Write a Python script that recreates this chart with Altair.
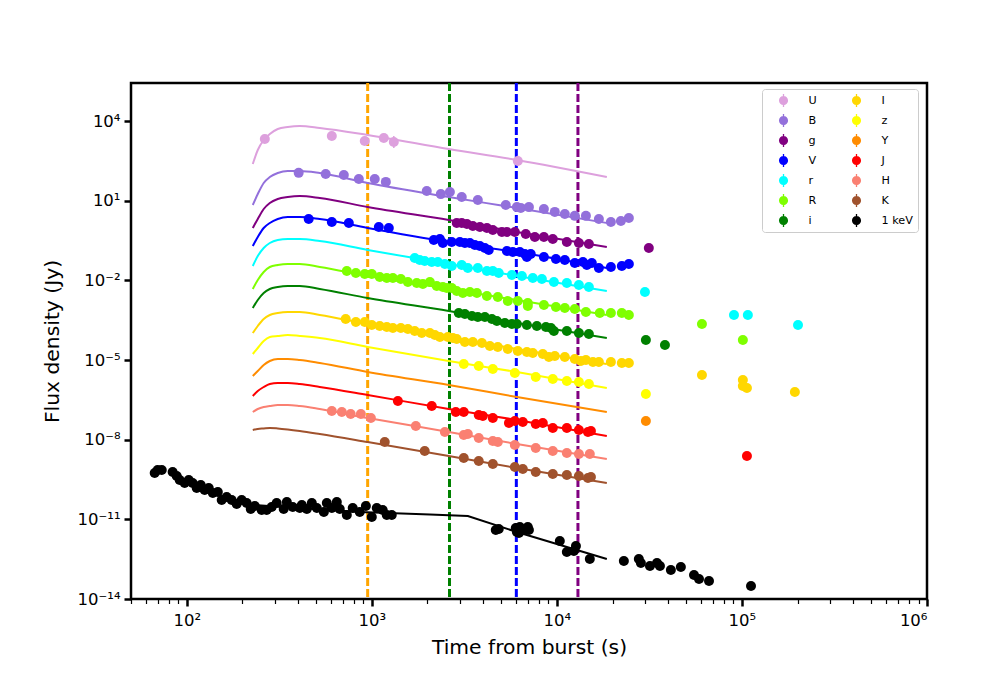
"""Multi-band afterglow light curves, optical/NIR and 1 keV X-ray."""

import altair as alt
import pandas as pd

# all arrays are log10(time / s) and log10(flux / Jy)
U_t = [2.422, 2.784, 2.962, 3.065, 3.119, 3.789]
U_f = [3.326, 3.439, 3.250, 3.364, 3.213, 2.497]
B_t = [2.605, 2.751, 2.849, 2.930, 3.016, 3.076, 3.297, 3.373, 3.422, 3.486, 3.573, 3.724,
       3.784, 3.805, 3.849, 3.930, 3.989, 4.043, 4.097, 4.157, 4.227, 4.292, 4.346, 4.389]
B_f = [2.05, 2.01, 1.97, 1.82, 1.82, 1.71, 1.37, 1.25, 1.33, 1.14, 1.03, 0.84,
       0.76, 0.73, 0.76, 0.69, 0.58, 0.50, 0.43, 0.43, 0.31, 0.20, 0.24, 0.35]
g_t = [3.459, 3.486, 3.514, 3.546, 3.584, 3.622, 3.654, 3.703, 3.730, 3.773, 3.832, 3.881,
       3.930, 3.978, 4.054, 4.119, 4.173, 4.497]
g_f = [0.162, 0.162, 0.124, 0.049, 0.011, -0.026, -0.102, -0.177, -0.177, -0.177, -0.253, -0.365,
       -0.365, -0.441, -0.554, -0.591, -0.629, -0.780]
V_t = [2.659, 2.784, 2.876, 3.038, 3.092, 3.335, 3.368, 3.384, 3.432, 3.476, 3.503, 3.530, 3.557,
       3.584, 3.611, 3.632, 3.730, 3.762, 3.800, 3.827, 3.838, 3.859, 3.930, 3.995, 4.043, 4.097,
       4.141, 4.162, 4.189, 4.227, 4.292, 4.351, 4.389]
V_f = [0.313, 0.200, 0.162, 0.011, -0.026, -0.478, -0.441, -0.591, -0.554, -0.554, -0.591, -0.591, -0.667,
       -0.704, -0.780, -0.855, -0.893, -0.931, -0.931, -1.006, -1.119, -1.006, -1.119, -1.194, -1.232, -1.345,
       -1.307, -1.420, -1.345, -1.533, -1.495, -1.458, -1.382]
r_t = [3.232, 3.259, 3.286, 3.324, 3.357, 3.395, 3.432, 3.486, 3.519, 3.573, 3.622, 3.654, 3.686,
       3.757, 3.811, 3.870, 3.919, 3.984, 4.054, 4.119, 4.173, 4.476, 4.957, 5.032, 5.303]
r_f = [-1.156, -1.232, -1.270, -1.307, -1.307, -1.382, -1.458, -1.420, -1.533, -1.533, -1.646, -1.646, -1.721,
       -1.797, -1.834, -1.910, -1.947, -2.060, -2.098, -2.173, -2.249, -2.437, -3.304, -3.304, -3.680]
R_t = [2.865, 2.914, 2.962, 3.000, 3.043, 3.081, 3.114, 3.157, 3.195, 3.243, 3.276, 3.314, 3.351,
       3.384, 3.405, 3.432, 3.459, 3.492, 3.530, 3.568, 3.622, 3.681, 3.735, 3.789, 3.843, 3.843,
       3.930, 3.995, 4.043, 4.097, 4.157, 4.232, 4.292, 4.351, 4.389, 4.784, 5.005]
R_f = [-1.646, -1.721, -1.759, -1.759, -1.872, -1.910, -1.910, -1.947, -2.060, -2.098, -2.136, -2.060, -2.211,
       -2.249, -2.287, -2.287, -2.399, -2.475, -2.437, -2.475, -2.588, -2.626, -2.776, -2.776, -2.852, -2.965,
       -2.927, -3.002, -3.040, -3.078, -3.190, -3.228, -3.228, -3.228, -3.304, -3.643, -4.245]
i_t = [3.470, 3.503, 3.541, 3.573, 3.611, 3.649, 3.676, 3.719, 3.757, 3.784, 3.838, 3.892, 3.941,
       3.968, 3.984, 4.054, 4.119, 4.173, 4.481, 4.584]
i_f = [-3.228, -3.266, -3.341, -3.379, -3.379, -3.454, -3.530, -3.605, -3.643, -3.643, -3.680, -3.718, -3.755,
       -3.793, -3.906, -3.906, -3.981, -4.019, -4.245, -4.433]
I_t = [2.859, 2.914, 2.962, 3.000, 3.043, 3.081, 3.114, 3.157, 3.195, 3.232, 3.270, 3.314, 3.341, 3.368,
       3.411, 3.438, 3.459, 3.503, 3.546, 3.595, 3.638, 3.681, 3.735, 3.789, 3.838, 3.870, 3.924, 3.957,
       3.989, 4.043, 4.097, 4.130, 4.157, 4.195, 4.227, 4.292, 4.351, 4.389, 4.784, 5.005, 5.027, 5.005, 5.286]
I_f = [-3.454, -3.567, -3.567, -3.680, -3.718, -3.755, -3.793, -3.793, -3.831, -3.906, -3.981, -3.981, -4.056, -4.132,
       -4.132, -4.170, -4.207, -4.320, -4.320, -4.358, -4.471, -4.509, -4.584, -4.659, -4.697, -4.735, -4.772, -4.885,
       -4.847, -4.885, -4.961, -5.036, -4.998, -5.074, -5.074, -5.074, -5.111, -5.111, -5.563, -5.978, -6.053, -5.752, -6.203]
z_t = [3.497, 3.578, 3.654, 3.773, 3.886, 3.978, 4.054, 4.119, 4.173, 4.481]
z_f = [-5.149, -5.224, -5.337, -5.488, -5.639, -5.714, -5.789, -5.827, -5.902, -6.279]
Y_t = [4.481]
Y_f = [-7.296]
J_t = [3.141, 3.324, 3.454, 3.497, 3.578, 3.600, 3.654, 3.741, 3.773, 3.816, 3.886, 3.924, 3.978,
       4.054, 4.119, 4.168, 4.184, 5.027]
J_f = [-6.543, -6.731, -6.957, -6.957, -7.070, -7.108, -7.183, -7.371, -7.296, -7.334, -7.409, -7.371, -7.560,
       -7.560, -7.635, -7.710, -7.673, -8.614]
H_t = [2.784, 2.838, 2.886, 2.941, 2.995, 3.238, 3.395, 3.497, 3.519, 3.578, 3.654, 3.681, 3.773,
       3.886, 3.978, 4.054, 4.119, 4.178]
H_f = [-6.919, -6.957, -7.032, -7.032, -7.183, -7.484, -7.710, -7.823, -7.785, -7.936, -8.049, -8.087, -8.200,
       -8.313, -8.426, -8.501, -8.539, -8.539]
K_t = [3.070, 3.286, 3.497, 3.578, 3.654, 3.773, 3.816, 3.886, 3.978, 4.054, 4.119, 4.168, 4.184]
K_f = [-8.087, -8.426, -8.689, -8.802, -8.915, -9.028, -9.103, -9.216, -9.292, -9.330, -9.367, -9.443, -9.405]
xray_t = [1.827, 1.843, 1.865, 1.924, 1.946, 1.962, 1.989, 2.011, 2.032, 2.054, 2.076, 2.097, 2.119, 2.141,
          2.168, 2.189, 2.216, 2.243, 2.270, 2.297, 2.324, 2.346, 2.368, 2.405, 2.432, 2.459, 2.486, 2.524,
          2.541, 2.573, 2.611, 2.622, 2.649, 2.676, 2.703, 2.741, 2.757, 2.784, 2.811, 2.827, 2.865, 2.897,
          2.935, 2.968, 3.000, 3.027, 3.059, 3.081, 3.108,
          3.670, 3.686, 3.784, 3.778, 3.800, 3.795, 3.816, 3.843, 3.849, 4.016, 4.054, 4.092, 4.103, 4.178,
          4.362, 4.443, 4.454, 4.503, 4.541, 4.557, 4.616, 4.670, 4.741, 4.768, 4.822, 5.049]
xray_f = [-9.255, -9.142, -9.142, -9.217, -9.367, -9.518, -9.631, -9.518, -9.631, -9.820, -9.707, -9.895, -9.820, -10.008,
          -9.970, -10.272, -10.159, -10.272, -10.422, -10.272, -10.385, -10.611, -10.498, -10.648, -10.648, -10.536, -10.385, -10.611,
          -10.347, -10.536, -10.573, -10.460, -10.611, -10.385, -10.573, -10.724, -10.385, -10.573, -10.347, -10.611, -10.837, -10.573,
          -10.724, -10.498, -10.912, -10.573, -10.648, -10.837, -10.837,
          -11.402, -11.364, -11.477, -11.326, -11.289, -11.515, -11.402, -11.289, -11.402, -11.816, -12.230, -12.193, -12.004, -12.494,
          -12.569, -12.494, -12.644, -12.757, -12.644, -12.757, -12.908, -12.795, -13.096, -13.247, -13.322, -13.511]

# model curves, same time grid for the UV/optical/NIR bands
model_t = [2.357, 2.384, 2.416, 2.449, 2.492, 2.546, 2.611, 2.719, 2.978, 3.416, 3.784, 4.270]
model_U = [2.384, 2.911, 3.288, 3.514, 3.703, 3.778, 3.815, 3.740, 3.476, 2.949, 2.535, 1.894]
model_B = [0.840, 1.254, 1.668, 1.894, 2.045, 2.120, 2.120, 2.045, 1.668, 1.141, 0.727, 0.162]
model_g = [-0.026, 0.313, 0.689, 0.915, 1.066, 1.141, 1.179, 1.103, 0.764, 0.275, -0.177, -0.742]
model_V = [-0.704, -0.365, -0.026, 0.162, 0.313, 0.388, 0.388, 0.313, -0.026, -0.554, -0.931, -1.533]
model_r = [-1.458, -1.081, -0.780, -0.591, -0.478, -0.441, -0.441, -0.516, -0.855, -1.382, -1.834, -2.399]
model_R = [-2.324, -1.985, -1.684, -1.495, -1.420, -1.382, -1.382, -1.495, -1.834, -2.324, -2.739, -3.304]
model_i = [-3.040, -2.739, -2.475, -2.324, -2.249, -2.211, -2.211, -2.324, -2.663, -3.153, -3.605, -4.170]
model_I = [-3.981, -3.718, -3.454, -3.304, -3.228, -3.190, -3.190, -3.304, -3.643, -4.132, -4.584, -5.149]
model_z = [-4.772, -4.546, -4.283, -4.132, -4.094, -4.057, -4.094, -4.170, -4.509, -5.036, -5.450, -6.053]
model_Y = [-5.601, -5.413, -5.187, -5.036, -4.961, -4.961, -4.998, -5.111, -5.450, -5.940, -6.392, -6.957]
model_J = [-6.354, -6.166, -6.015, -5.902, -5.865, -5.865, -5.902, -6.015, -6.317, -6.844, -7.258, -7.861]
model_H = [-6.957, -6.844, -6.769, -6.731, -6.693, -6.693, -6.731, -6.844, -7.183, -7.710, -8.162, -8.727]
model_K = [-7.635, -7.597, -7.578, -7.560, -7.578, -7.616, -7.673, -7.786, -8.087, -8.614, -9.066, -9.631]
model_xray_t = [2.357, 2.935, 3.314, 3.519, 3.784, 4.270]
model_xray = [-10.460, -10.724, -10.818, -10.875, -11.477, -12.494]

# the only error bars that stick out from under the markers (U band)
err_t = [3.119, 3.789]
err_low = [2.99, 2.31]
err_high = [3.44, 2.69]

vline_t = [950, 2630, 6040, 13000]
vline_colors = ["orange", "green", "blue", "purple"]

bands = ["U", "B", "g", "V", "r", "R", "i", "I", "z", "Y", "J", "H", "K", "1 keV"]
band_colors = ["#dda0dd", "#9370db", "#800080", "#0000ff", "#00ffff", "#7fff00", "#008000",
               "#ffd700", "#ffff00", "#ff8c00", "#ff0000", "#fa8072", "#a0522d", "#000000"]

x_major = [100, 1000, 10000, 100000, 1000000]
x_minor = [m * d for d in [10, 100, 1000, 10000, 100000] for m in range(2, 10)
           if m * d >= 50]
x_labels = "['10²','10³','10⁴','10⁵','10⁶'][round(log(datum.value)/LN10)-2]"
y_major = [1e-14, 1e-11, 1e-8, 1e-5, 1e-2, 1e1, 1e4]
y_labels = "['10⁻¹⁴','10⁻¹¹','10⁻⁸','10⁻⁵','10⁻²','10¹','10⁴'][round((log(datum.value)/LN10+14)/3)]"

FONT = "DejaVu Sans"
# marker with its little error bar, for the legend entries
LEGEND_SYMBOL = ("M -0.7,0 A 0.7,0.7 0 1 1 0.7,0 A 0.7,0.7 0 1 1 -0.7,0 Z "
                 "M -0.1,-1 L 0.1,-1 L 0.1,1 L -0.1,1 Z")

obs = [(U_t, U_f), (B_t, B_f), (g_t, g_f), (V_t, V_f), (r_t, r_f), (R_t, R_f), (i_t, i_f),
       (I_t, I_f), (z_t, z_f), (Y_t, Y_f), (J_t, J_f), (H_t, H_f), (K_t, K_f), (xray_t, xray_f)]
models = [model_U, model_B, model_g, model_V, model_r, model_R, model_i,
          model_I, model_z, model_Y, model_J, model_H, model_K]

points = pd.concat(
    pd.DataFrame({"band": b, "t": [10**v for v in ts], "flux": [10**v for v in fs]})
    for b, (ts, fs) in zip(bands, obs)
)
curves = pd.concat(
    pd.DataFrame({"band": b, "t": [10**v for v in model_t], "flux": [10**v for v in ms]})
    for b, ms in zip(bands, models)
)
xray_curve = pd.DataFrame({"band": "1 keV", "t": [10**v for v in model_xray_t],
                           "flux": [10**v for v in model_xray]})
errs = pd.DataFrame({"band": "U", "t": [10**v for v in err_t],
                     "low": [10**v for v in err_low], "high": [10**v for v in err_high]})
vlines = pd.DataFrame({"t": vline_t, "c": vline_colors})

x_scale = alt.Scale(type="log", domain=[50, 1e6], nice=False)
y_scale = alt.Scale(type="log", domain=[1e-14, 2.72e5], nice=False)
color_scale = alt.Scale(domain=bands, range=band_colors)

X_AXIS = alt.Axis(values=x_major, labelExpr=x_labels, title="Time from burst (s)", grid=False,
                  orient="bottom", domain=False, tickColor="black", tickWidth=2.5, tickSize=7,
                  labelColor="black", labelFontSize=16.5, labelFont=FONT, labelPadding=6,
                  titleFontSize=20.3, titleFont=FONT, titleFontWeight="normal", titleColor="black",
                  titlePadding=9)
X_MINOR = alt.Axis(values=x_minor, labels=False, title=None, grid=False, domain=False, orient="bottom",
                   tickColor="black", tickWidth=1.2, tickSize=4.5)
Y_AXIS = alt.Axis(values=y_major, labelExpr=y_labels, title="Flux density (Jy)", grid=False,
                  domain=False, tickColor="black", tickWidth=2.5, tickSize=7, labelColor="black",
                  labelFontSize=16.5, labelFont=FONT, labelPadding=4, titleFontSize=20.3, titleFont=FONT,
                  titleFontWeight="normal", titleColor="black", titlePadding=15)

legend = alt.Legend(
    title=None, orient="none", legendX=631, legendY=6, columns=2, direction="vertical",
    symbolType=LEGEND_SYMBOL, symbolSize=169, symbolStrokeWidth=0, symbolOffset=10, labelFont=FONT,
    labelFontSize=11.2, labelColor="black", labelOffset=18.5, rowPadding=7, columnPadding=23, padding=5,
    fillColor="white", strokeColor="#cccccc", cornerRadius=3, symbolOpacity=1,
)

rules = alt.Chart(vlines).mark_rule(strokeWidth=3, strokeDash=[8, 3]).encode(
    x=alt.X("t:Q", scale=x_scale, axis=X_MINOR),
    stroke=alt.Stroke("c:N", scale=None, legend=None),
)
band_lines = alt.Chart(curves).mark_line(strokeWidth=2, interpolate="monotone").encode(
    x=alt.X("t:Q", scale=x_scale, axis=None),
    y=alt.Y("flux:Q", scale=y_scale, axis=Y_AXIS),
    color=alt.Color("band:N", scale=color_scale, legend=legend),
)
xray_line = alt.Chart(xray_curve).mark_line(strokeWidth=2).encode(
    x=alt.X("t:Q", scale=x_scale, axis=None),
    y=alt.Y("flux:Q", scale=y_scale, axis=Y_AXIS),
    color=alt.Color("band:N", scale=color_scale, legend=legend),
)
err_bars = alt.Chart(errs).mark_rule(strokeWidth=1.5).encode(
    x=alt.X("t:Q", scale=x_scale, axis=None),
    y=alt.Y("low:Q", scale=y_scale, axis=Y_AXIS),
    y2="high:Q",
    color=alt.Color("band:N", scale=color_scale, legend=legend),
)
dots = alt.Chart(points).mark_circle(size=100, opacity=1).encode(
    x=alt.X("t:Q", scale=x_scale, axis=X_AXIS),
    y=alt.Y("flux:Q", scale=y_scale, axis=Y_AXIS),
    color=alt.Color("band:N", scale=color_scale, legend=legend),
)

chart = (
    alt.layer(rules, band_lines, xray_line, err_bars, dots)
    .resolve_axis(x="independent")
    .properties(width=796, height=516, padding={"left": 34, "top": 73, "right": 0, "bottom": 0},
                background="white")
    .configure_view(stroke="black", strokeWidth=2.5)
)

chart.save("out.html", embed_options={"renderer": "svg", "actions": False})
